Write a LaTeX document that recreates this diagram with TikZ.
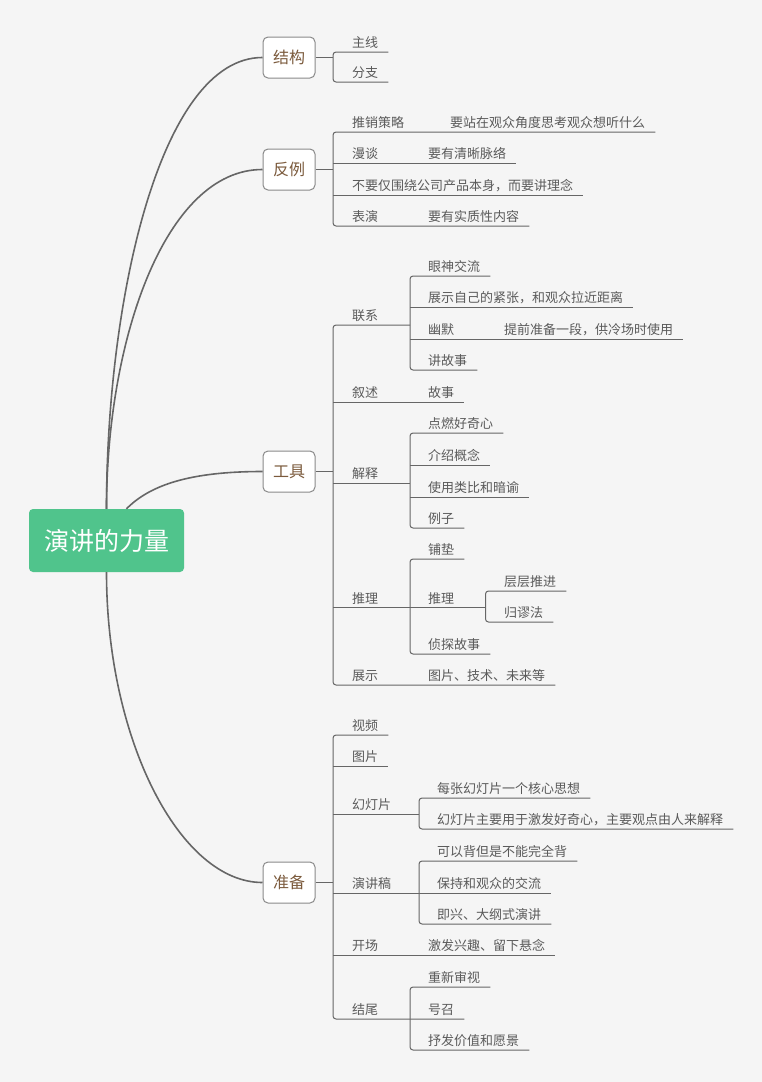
\documentclass[tikz,border=0pt]{standalone}
\usepackage{fontspec}
\newfontfamily\cjk{Noto Sans CJK SC}
\definecolor{bggray}{HTML}{F5F5F5}
\definecolor{rootgreen}{RGB}{80,196,140}
\definecolor{linegray}{HTML}{666666}
\definecolor{boxgray}{HTML}{8A8A8A}
\definecolor{leafgray}{HTML}{5A5A5A}
\definecolor{topicbrown}{HTML}{7B5A3C}

\tikzset{
  root/.style      = {shape=rectangle, rounded corners=4pt, fill=rootgreen,
                      text=white, minimum width=155pt, minimum height=63pt,
                      font=\cjk\fontsize{25}{25}\selectfont},
  maintopic/.style = {shape=rectangle, rounded corners=5pt, draw=boxgray,
                      line width=1pt, fill=white, text=topicbrown,
                      minimum width=52pt, minimum height=41pt,
                      font=\cjk\fontsize{16}{16}\selectfont},
  subtopic/.style  = {anchor=south west, inner xsep=10pt, inner ysep=4pt,
                      text depth=0pt, text=leafgray,
                      font=\cjk\fontsize{13}{13}\selectfont},
  curve/.style     = {draw=linegray, line width=1.6pt},
  link/.style      = {draw=linegray, line width=1pt, rounded corners=3pt}
}

\begin{document}
\begin{tikzpicture}[x=1pt, y=-1pt]
\fill[bggray] (0,0) rectangle (762,1082);

% root and main topics
\node[root] (root) at (106.5,540.5) {演讲的力量};
\node[maintopic] (jg) at (289,57.5) {结构};
\node[maintopic] (fl) at (289,169.5) {反例};
\node[maintopic] (gj) at (289,471.5) {工具};
\node[maintopic] (zb) at (289,882.5) {准备};

\draw[curve] (root.north) .. controls (106.5,300) and (160,57.5) .. (jg.west);
\draw[curve] (root.north) .. controls (106.5,340) and (165,169.5) .. (fl.west);
\draw[curve] ([xshift=20pt]root.north) .. controls (150,485) and (190,471.5) .. (gj.west);
\draw[curve] (root.south) .. controls (106.5,740) and (180,882.5) .. (zb.west);

\coordinate (s1)  at (333,0);
\coordinate (s3a) at (410,0);
\coordinate (s3b) at (485.5,0);
\coordinate (s4a) at (419,0);

% 结构
\node[subtopic] (zx) at (342,52) {主线};
\node[subtopic] (fz) at (342,82) {分支};
\draw[link] (jg.east) -- (s1 |- jg.east);
\draw[link] (zx.south east) -- (s1 |- zx.south) -- (s1 |- fz.south) -- (fz.south east);

% 反例
\node[subtopic] (txcl) at (342,132) {推销策略};
\node[subtopic] (yzz)  at (440,132) {要站在观众角度思考观众想听什么};
\node[subtopic] (mt)   at (342,163) {漫谈};
\node[subtopic] (yyqx) at (418,163) {要有清晰脉络};
\node[subtopic] (bybw) at (342,195) {不要仅围绕公司产品本身，而要讲理念};
\node[subtopic] (by)   at (342,226) {表演};
\node[subtopic] (yysz) at (418,226) {要有实质性内容};
\draw[link] (fl.east) -- (s1 |- fl.east);
\draw[link] (yzz.south east) -- (s1 |- txcl.south) -- (s1 |- by.south) -- (yysz.south east);
\draw[link] (s1 |- mt.south) -- (yyqx.south east);
\draw[link] (s1 |- bybw.south) -- (bybw.south east);

% 工具
\node[subtopic] (lx)   at (342,325) {联系};
\node[subtopic] (yszl) at (418,276) {眼神交流};
\node[subtopic] (zszj) at (418,307) {展示自己的紧张，和观众拉近距离};
\node[subtopic] (ym)   at (418,339) {幽默};
\node[subtopic] (tqzb) at (494,339) {提前准备一段，供冷场时使用};
\node[subtopic] (jgs)  at (418,370) {讲故事};
\node[subtopic] (xs)   at (342,402) {叙述};
\node[subtopic] (gs)   at (418,402) {故事};
\node[subtopic] (js)   at (342,483) {解释};
\node[subtopic] (drhq) at (418,433) {点燃好奇心};
\node[subtopic] (jsgn) at (418,465) {介绍概念};
\node[subtopic] (sylb) at (418,497) {使用类比和暗谕};
\node[subtopic] (lz)   at (418,528) {例子};
\node[subtopic] (tl)   at (342,607.5) {推理};
\node[subtopic] (pd)   at (418,559) {铺垫};
\node[subtopic] (tl2)  at (418,607.5) {推理};
\node[subtopic] (cctj) at (494,591) {层层推进};
\node[subtopic] (gmf)  at (494,622) {归谬法};
\node[subtopic] (ztgs) at (418,654) {侦探故事};
\node[subtopic] (zs)   at (342,685) {展示};
\node[subtopic] (tpjs) at (418,685) {图片、技术、未来等};
\draw[link] (gj.east) -- (s1 |- gj.east);
\draw[link] (s3a |- lx.south) -- (s1 |- lx.south) -- (s1 |- zs.south) -- (tpjs.south east);
\draw[link] (s1 |- xs.south) -- (gs.south east);
\draw[link] (s1 |- js.south) -- (s3a |- js.south);
\draw[link] (s1 |- tl.south) -- (s3b |- tl.south);
\draw[link] (yszl.south east) -- (s3a |- yszl.south) -- (s3a |- jgs.south) -- (jgs.south east);
\draw[link] (s3a |- zszj.south) -- (zszj.south east);
\draw[link] (s3a |- ym.south) -- (tqzb.south east);
\draw[link] (drhq.south east) -- (s3a |- drhq.south) -- (s3a |- lz.south) -- (lz.south east);
\draw[link] (s3a |- jsgn.south) -- (jsgn.south east);
\draw[link] (s3a |- sylb.south) -- (sylb.south east);
\draw[link] (pd.south east) -- (s3a |- pd.south) -- (s3a |- ztgs.south) -- (ztgs.south east);
\draw[link] (cctj.south east) -- (s3b |- cctj.south) -- (s3b |- gmf.south) -- (gmf.south east);

% 准备
\node[subtopic] (sp)   at (342,735) {视频};
\node[subtopic] (tp)   at (342,766) {图片};
\node[subtopic] (hdp)  at (342,814) {幻灯片};
\node[subtopic] (mzhd) at (427,798) {每张幻灯片一个核心思想};
\node[subtopic] (hdpz) at (427,829) {幻灯片主要用于激发好奇心，主要观点由人来解释};
\node[subtopic] (yjg)  at (342,893) {演讲稿};
\node[subtopic] (kybb) at (427,861) {可以背但是不能完全背};
\node[subtopic] (bchg) at (427,893) {保持和观众的交流};
\node[subtopic] (jxdg) at (427,924) {即兴、大纲式演讲};
\node[subtopic] (kc)   at (342,955) {开场};
\node[subtopic] (jfxq) at (418,955) {激发兴趣、留下悬念};
\node[subtopic] (jw)   at (342,1019) {结尾};
\node[subtopic] (cxsh) at (418,987) {重新审视};
\node[subtopic] (hz)   at (418,1019) {号召};
\node[subtopic] (sfjz) at (418,1050) {抒发价值和愿景};
\draw[link] (zb.east) -- (s1 |- zb.east);
\draw[link] (sp.south east) -- (s1 |- sp.south) -- (s1 |- jw.south) -- (hz.south east);
\draw[link] (s1 |- tp.south) -- (tp.south east);
\draw[link] (s1 |- hdp.south) -- (s4a |- hdp.south);
\draw[link] (s1 |- yjg.south) -- (bchg.south east);
\draw[link] (s1 |- kc.south) -- (jfxq.south east);
\draw[link] (mzhd.south east) -- (s4a |- mzhd.south) -- (s4a |- hdpz.south) -- (hdpz.south east);
\draw[link] (kybb.south east) -- (s4a |- kybb.south) -- (s4a |- jxdg.south) -- (jxdg.south east);
\draw[link] (cxsh.south east) -- (s3a |- cxsh.south) -- (s3a |- sfjz.south) -- (sfjz.south east);
\end{tikzpicture}
\end{document}
